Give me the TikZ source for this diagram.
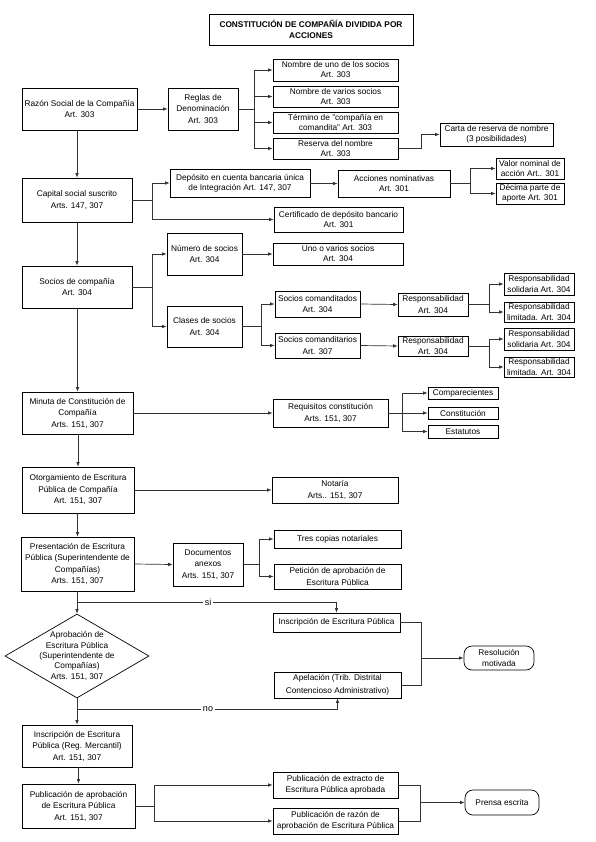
\documentclass[tikz,border=0pt]{standalone}
\usepackage{fontspec}
\setmainfont{Liberation Sans}
\usetikzlibrary{arrows.meta,shapes.geometric}
\newcommand{\mybox}[7][]{\node[bx,#1,minimum width={(#4-#3)*1pt},minimum height={(#6-#5)*1pt}] (#2) at ({(#3+#4)/2},{(#5+#6)/2}) {#7};}
\begin{document}
\begin{tikzpicture}[x=1pt,y=-1pt,
 bx/.style={draw=black,line width=0.7pt,inner sep=0pt,align=center,font=\fontsize{8.3}{11.5}\selectfont},
 tight/.style={font=\fontsize{8.3}{10}\selectfont},
 rbx/.style={bx,rounded corners=8pt},
 con/.style={draw=black!80,line width=0.7pt},
 arr/.style={con,-{Latex[length=4.5pt,width=3.6pt]}},
 lbl/.style={fill=white,inner sep=1.5pt,font=\fontsize{9}{10}\selectfont}]
\useasboundingbox[fill=white] (0,0) rectangle (595,842);

% title
\mybox[font=\fontsize{8.3}{11}\selectfont\bfseries]{title}{209}{413}{14}{45}{CONSTITUCIÓN DE COMPAÑÍA DIVIDIDA POR\\ACCIONES}

% row 1
\mybox{razon}{22}{137}{88}{130}{Razón Social de la Compañía\\Art. 303}
\mybox{reglas}{168}{238}{88}{130}{Reglas de\\Denominación\\Art. 303}
\mybox[tight]{nom1}{273}{398}{59}{81}{Nombre de uno de los socios\\Art. 303}
\mybox[tight]{nom2}{273}{398}{86}{107}{Nombre de varios socios\\Art. 303}
\mybox[tight]{term}{273}{398}{112}{133}{Término de "compañía en\\comandita" Art. 303}
\mybox[tight]{reserva}{273}{398}{138}{159}{Reserva del nombre\\Art. 303}
\mybox[tight]{carta}{440}{553}{123}{146}{Carta de reserva de nombre\\(3 posibilidades)}

% row 2
\mybox{capital}{22}{132}{178}{222}{Capital social suscrito\\Arts. 147, 307}
\mybox[tight]{deposito}{170}{310}{169}{197}{Depósito en cuenta bancaria única\\de Integración Art. 147, 307}
\mybox[tight]{acciones}{338}{450}{170}{197}{Acciones nominativas\\Art. 301}
\mybox[tight]{valor}{496}{564}{158}{179}{Valor nominal de\\acción Art.. 301}
\mybox[tight]{decima}{496}{564}{183}{204}{Décima parte de\\aporte Art. 301}
\mybox[tight]{certif}{274}{403}{207}{232}{Certificado de depósito bancario\\Art. 301}

% row 3
\mybox{socios}{22}{132}{266}{308}{Socios de compañía\\Art. 304}
\mybox{numero}{167}{242}{233}{275}{Número de socios\\Art. 304}
\mybox[tight]{uno}{273}{403}{243}{265}{Uno o varios socios\\Art. 304}
\mybox{clases}{167}{242}{306}{347}{Clases de socios\\Art. 304}
\mybox{comtdos}{275}{360}{291}{317}{Socios comanditados\\Art. 304}
\mybox{comtrios}{275}{360}{333}{358}{Socios comanditarios\\Art. 307}
\mybox{respa}{398}{468}{293}{316}{Responsabilidad\\Art. 304}
\mybox{respb}{398}{468}{336}{356}{Responsabilidad\\Art. 304}
\mybox{sola}{504}{574}{273}{295}{Responsabilidad\\solidaria Art. 304}
\mybox{lima}{504}{574}{302}{322}{Responsabilidad\\limitada. Art. 304}
\mybox{solb}{504}{574}{328}{350}{Responsabilidad\\solidaria Art. 304}
\mybox{limb}{504}{574}{357}{377}{Responsabilidad\\limitada. Art. 304}

% row 4
\mybox{minuta}{22}{133}{392}{434}{Minuta de Constitución de\\Compañía\\Arts. 151, 307}
\mybox{requisitos}{273}{388}{399}{427}{Requisitos constitución\\Arts. 151, 307}
\mybox{compar}{428}{498}{387}{399}{Comparecientes}
\mybox{constit}{428}{498}{407}{419}{Constitución}
\mybox{estat}{428}{498}{425}{438}{Estatutos}

% row 5
\mybox{otorg}{22}{134}{467}{513}{Otorgamiento de Escritura\\Pública de Compañía\\Art. 151, 307}
\mybox[font=\fontsize{8.3}{12.5}\selectfont]{notaria}{272}{398}{477}{503}{Notaría\\Arts.. 151, 307}

% row 6
\mybox{present}{21}{134}{537}{591}{Presentación de Escritura\\Pública (Superintendente de\\Compañías)\\Arts. 151, 307}
\mybox{docs}{173}{243}{543}{586}{Documentos\\anexos\\Arts. 151, 307}
\mybox{tres}{274}{401}{530}{548}{Tres copias notariales}
\mybox{peticion}{274}{401}{564}{589}{Petición de aprobación de\\Escritura Pública}

% decision
\node[draw=black,line width=0.7pt,diamond,inner sep=0pt,minimum width=144pt,minimum height=84pt] (dia) at (77,656) {};
\node[align=center,inner sep=0pt,font=\fontsize{8.3}{10.3}\selectfont] (diat) at (77,656) {Aprobación de\\Escritura Pública\\(Superintendente de\\Compañías)\\Arts. 151, 307};
\mybox{inscep}{273}{400}{613}{632}{Inscripción de Escritura Pública}
\mybox[font=\fontsize{8.3}{12.5}\selectfont]{apel}{274}{401}{672}{698}{Apelación (Trib. Distrital\\Contencioso Administrativo)}
\mybox[rbx]{resol}{464}{534}{646}{670}{Resolución\\motivada}

% bottom
\mybox{inscrm}{22}{132}{725}{767}{Inscripción de Escritura\\Pública (Reg. Mercantil)\\Art. 151, 307}
\mybox{public}{22}{135}{784}{828}{Publicación de aprobación\\de Escritura Pública\\Art. 151, 307}
\mybox{pubext}{273}{398}{772}{798}{Publicación de extracto de\\Escritura Pública aprobada}
\mybox{pubraz}{273}{398}{808}{834}{Publicación de razón de\\aprobación de Escritura Pública}
\mybox[rbx]{prensa}{465}{539}{790}{815}{Prensa escrita}

% ---- connectors ----
% main column
\draw[arr] (razon.south -| capital.north) -- (capital.north);
\draw[arr] (capital.south) -- (socios.north);
\draw[arr] (socios.south -| minuta.north) -- (minuta.north);
\draw[arr] (minuta.south -| otorg.north) -- (otorg.north);
\draw[arr] (otorg.south -| present.north) -- (present.north);
\draw[arr] (inscrm.south -| public.north) -- (public.north);

% razon -> reglas -> names
\draw[arr] (razon.east |- reglas.west) -- (reglas.west);
\coordinate (rb) at (254,109);
\draw[arr] (reglas.east) -- (rb) |- (nom1.west);
\draw[arr] (rb) |- (nom2.west);
\draw[arr] (rb) |- (term.west);
\draw[arr] (rb) |- (reserva.west);
\coordinate (rc) at (421,148.5);
\draw[arr] (reserva.east) -- (rc) |- (carta.west);

% capital
\coordinate (cb) at (152,200);
\draw[arr] (capital.east) -- (cb) |- (deposito.west);
\draw[arr] (cb) |- (certif.west);
\draw[arr] (deposito.east) -- (acciones.west -| deposito.east) -- (acciones.west);
\coordinate (ab) at (470,183.5);
\draw[arr] (acciones.east) -- (ab) |- (valor.west);
\draw[arr] (ab) |- (decima.west);

% socios
\coordinate (sb) at (152,287);
\draw[arr] (socios.east) -- (sb) |- (numero.west);
\draw[arr] (sb) |- (clases.west);
\draw[arr] (numero.east) -- (uno.west);
\coordinate (clb) at (261,326.5);
\draw[arr] (clases.east) -- (clb) |- (comtdos.west);
\draw[arr] (clb) |- (comtrios.west);
\draw[arr] (comtdos.east) -- (respa.west);
\draw[arr] (comtrios.east) -- (respb.west);
\coordinate (rab) at (489,304.5);
\draw[arr] (respa.east) -- (rab) |- (sola.west);
\draw[arr] (rab) |- (lima.west);
\coordinate (rbb) at (489,346);
\draw[arr] (respb.east) -- (rbb) |- (solb.west);
\draw[arr] (rbb) |- (limb.west);

% minuta
\draw[arr] (minuta.east) -- (requisitos.west);
\coordinate (qb) at (402,413);
\draw[arr] (requisitos.east) -- (qb) |- (compar.west);
\draw[arr] (qb) |- (constit.west);
\draw[arr] (qb) |- (estat.west);

% otorgamiento
\draw[arr] (otorg.east) -- (notaria.west);

% presentacion
\draw[arr] (present.east) -- (docs.west);
\coordinate (db) at (259,564.5);
\draw[arr] (docs.east) -- (db) |- (tres.west);
\draw[arr] (db) |- (peticion.west);

% decision
\coordinate (si) at (77,602);
\draw[con] (present.south -| si) -- (si);
\draw[arr] (si) -- (dia.north);
\draw[arr] (si) -| (inscep.north);
\node[lbl] (silbl) at (208,602) {si};
\coordinate (no) at (77,709);
\draw[con] (dia.south) -- (no);
\draw[arr] (no) -- (inscrm.north);
\draw[arr] (no) -| (apel.south);
\node[lbl] (nolbl) at (208,709) {no};
\coordinate (mr) at (421,658);
\draw[con] (inscep.east) -| (mr);
\draw[con] (apel.east) -| (mr);
\draw[arr] (mr) -- (resol.west);

% publicacion
\coordinate (pb) at (154,806);
\draw[arr] (public.east) -- (pb) |- (pubext.west);
\draw[arr] (pb) |- (pubraz.west);
\coordinate (mp) at (420,802.5);
\draw[con] (pubext.east) -| (mp);
\draw[con] (pubraz.east) -| (mp);
\draw[arr] (mp) -- (prensa.west);
\end{tikzpicture}
\end{document}
